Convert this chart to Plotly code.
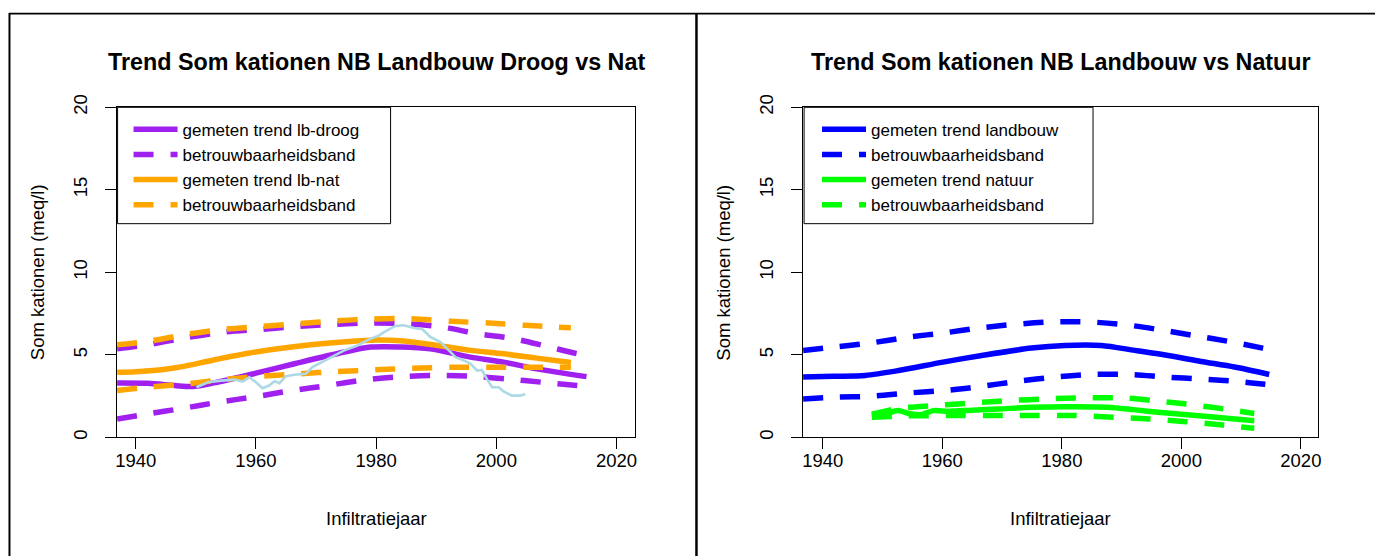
import plotly.graph_objects as go

# ---------------- data (left panel: Landbouw droog vs nat) ----------------
droog_trend_x = [1936.9, 1942.0, 1946.5, 1949.5, 1953.0, 1960.0, 1966.4, 1974.7, 1979.1, 1984.0, 1989.0, 1995.7, 2001.2, 2006.7, 2015.0]
droog_trend_y = [3.30, 3.28, 3.14, 3.08, 3.30, 3.89, 4.46, 5.17, 5.47, 5.48, 5.37, 4.86, 4.56, 4.15, 3.68]

droog_upper_x = [1936.9, 1942.0, 1948.4, 1954.7, 1961.1, 1967.2, 1973.0, 1979.1, 1985.2, 1991.0, 1996.8, 2002.3, 2007.8, 2013.4, 2015.0]
droog_upper_y = [5.37, 5.61, 6.04, 6.38, 6.55, 6.73, 6.85, 6.93, 6.89, 6.69, 6.28, 6.02, 5.57, 5.07, 4.98]

droog_lower_x = [1936.9, 1942.0, 1947.9, 1953.7, 1960.0, 1966.1, 1971.9, 1977.4, 1983.2, 1989.6, 1995.7, 2001.8, 2007.6, 2013.4, 2015.0]
droog_lower_y = [1.11, 1.42, 1.76, 2.13, 2.47, 2.84, 3.14, 3.45, 3.65, 3.75, 3.71, 3.54, 3.34, 3.14, 3.10]

nat_trend_x = [1936.9, 1940.0, 1944.3, 1948.0, 1952.6, 1960.0, 1969.1, 1975.0, 1980.0, 1984.6, 1990.2, 1995.7, 2001.2, 2006.7, 2012.4]
nat_trend_y = [3.95, 3.98, 4.10, 4.30, 4.66, 5.17, 5.61, 5.80, 5.90, 5.84, 5.57, 5.27, 5.06, 4.80, 4.54]

nat_upper_x = [1936.9, 1942.0, 1948.4, 1954.7, 1961.1, 1967.2, 1973.0, 1979.1, 1985.7, 1992.4, 1998.7, 2004.8, 2009.8, 2012.4]
nat_upper_y = [5.61, 5.81, 6.24, 6.55, 6.73, 6.89, 7.05, 7.17, 7.19, 7.03, 6.93, 6.79, 6.69, 6.64]

nat_lower_x = [1936.9, 1942.0, 1948.4, 1954.7, 1961.1, 1967.2, 1973.4, 1979.9, 1986.0, 1992.4, 1998.4, 2004.8, 2012.4]
nat_lower_y = [2.84, 3.04, 3.24, 3.51, 3.71, 3.85, 3.99, 4.09, 4.19, 4.25, 4.25, 4.25, 4.25]

meting_x = [1950.1, 1952.0, 1954.2, 1956.4, 1957.8, 1958.9, 1960.0, 1961.1, 1962.2, 1963.1, 1963.9, 1965.0,
            1966.4, 1968.3, 1969.4, 1971.4, 1973.0, 1974.7, 1976.9, 1978.8, 1980.5, 1981.3, 1983.2, 1984.6,
            1986.3, 1987.7, 1989.0, 1990.7, 1992.1, 1993.2, 1994.6, 1995.7, 1996.8, 1997.6, 1998.4, 1999.3,
            2000.4, 2001.2, 2002.6, 2004.0, 2004.8]
meting_y = [3.04, 3.34, 3.44, 3.50, 3.38, 3.65, 3.34, 2.98, 3.14, 3.40, 3.28, 3.71,
            3.79, 3.85, 4.26, 4.66, 4.96, 5.27, 5.57, 5.94, 6.18, 6.38, 6.75, 6.79,
            6.63, 6.55, 6.08, 5.78, 5.27, 4.86, 4.66, 4.46, 4.05, 4.09, 3.54, 3.04,
            3.04, 2.78, 2.53, 2.53, 2.63]

# ---------------- data (right panel: Landbouw vs Natuur) ----------------
lb_trend_x = [1936.7, 1941.8, 1947.1, 1952.7, 1960.1, 1966.6, 1974.9, 1980.5, 1986.6, 1992.2, 1997.8, 2003.3, 2008.9, 2014.7]
lb_trend_y = [3.65, 3.70, 3.75, 4.05, 4.56, 4.96, 5.41, 5.57, 5.57, 5.27, 4.96, 4.60, 4.26, 3.81]

lb_upper_x = [1936.7, 1941.8, 1948.2, 1954.4, 1960.5, 1966.3, 1972.2, 1978.0, 1984.7, 1990.5, 1996.4, 2001.9, 2007.8, 2013.6, 2014.9]
lb_upper_y = [5.27, 5.47, 5.73, 6.08, 6.34, 6.63, 6.85, 6.99, 6.99, 6.83, 6.52, 6.18, 5.82, 5.41, 5.31]

lb_lower_x = [1936.7, 1941.8, 1948.0, 1954.4, 1960.5, 1966.3, 1972.7, 1978.8, 1985.0, 1991.4, 1997.5, 2003.3, 2009.7, 2014.6]
lb_lower_y = [2.33, 2.43, 2.49, 2.69, 2.84, 3.08, 3.40, 3.65, 3.81, 3.81, 3.65, 3.54, 3.38, 3.20]

nt_trend_x = [1948.2, 1950.5, 1952.5, 1954.4, 1956.5, 1958.5, 1961.0, 1965.0, 1969.4, 1975.0, 1980.5, 1987.7, 1992.0, 1996.1, 2004.4, 2012.2]
nt_trend_y = [1.30, 1.40, 1.62, 1.45, 1.38, 1.62, 1.58, 1.65, 1.72, 1.82, 1.86, 1.83, 1.68, 1.52, 1.26, 1.01]

nt_upper_x = [1948.2, 1952.7, 1958.8, 1965.2, 1971.3, 1977.4, 1983.9, 1990.3, 1996.4, 2002.2, 2008.3, 2012.2]
nt_upper_y = [1.40, 1.76, 1.93, 2.09, 2.23, 2.33, 2.39, 2.39, 2.19, 1.96, 1.66, 1.45]

nt_lower_x = [1948.2, 1954.0, 1961.0, 1967.0, 1973.0, 1982.2, 1988.6, 1994.7, 2000.8, 2006.9, 2012.2]
nt_lower_y = [1.22, 1.30, 1.32, 1.32, 1.32, 1.32, 1.22, 1.11, 0.95, 0.75, 0.55]

x_ticks = [1940, 1960, 1980, 2000, 2020]
y_ticks = [0, 5, 10, 15, 20]

# ---------------- styling ----------------
W, H = 1378, 558
OFF, SY = 12.0, 0.97   # observed vertical placement of the page in the screenshot
FONT = "Liberation Sans"
PURPLE, ORANGE, LBLUE = "#A020F0", "#FFA500", "#ADD8E6"
BLUE, GREEN = "#0000FF", "#00FF00"
LW = 5.5
DASH = "20px,17px"

def px_x(p):
    return p / W

def px_y(p):
    y = (p - OFF) / SY
    return (H - y) / H

fig = go.Figure()

def add(x, y, color, name, dash=None, legend="legend", show=True, ax=("x", "y"), shape="spline", width=LW):
    fig.add_trace(go.Scatter(
        x=x, y=y, mode="lines", name=name, showlegend=show, legend=legend,
        line=dict(color=color, width=width, dash=dash, shape=shape, smoothing=0.8),
        xaxis=ax[0], yaxis=ax[1], hoverinfo="skip"))

# left panel
add(droog_trend_x, droog_trend_y, PURPLE, "gemeten trend lb-droog")
add(droog_upper_x, droog_upper_y, PURPLE, "betrouwbaarheidsband", dash=DASH)
add(droog_lower_x, droog_lower_y, PURPLE, "betrouwbaarheidsband", dash=DASH, show=False)
add(nat_trend_x, nat_trend_y, ORANGE, "gemeten trend lb-nat")
add(nat_upper_x, nat_upper_y, ORANGE, "betrouwbaarheidsband", dash=DASH)
add(nat_lower_x, nat_lower_y, ORANGE, "betrouwbaarheidsband", dash=DASH, show=False)
add(meting_x, meting_y, LBLUE, "meting", show=False, shape="linear", width=2.6)

# right panel
R = ("x2", "y2")
add(lb_trend_x, lb_trend_y, BLUE, "gemeten trend landbouw", legend="legend2", ax=R)
add(lb_upper_x, lb_upper_y, BLUE, "betrouwbaarheidsband", dash=DASH, legend="legend2", ax=R)
add(lb_lower_x, lb_lower_y, BLUE, "betrouwbaarheidsband", dash=DASH, legend="legend2", show=False, ax=R)
add(nt_trend_x, nt_trend_y, GREEN, "gemeten trend natuur", legend="legend2", ax=R)
add(nt_upper_x, nt_upper_y, GREEN, "betrouwbaarheidsband", dash=DASH, legend="legend2", ax=R)
add(nt_lower_x, nt_lower_y, GREEN, "betrouwbaarheidsband", dash=DASH, legend="legend2", show=False, ax=R)

tickfont = dict(family=FONT, size=18.5, color="black")
common_x = dict(showline=True, linecolor="black", linewidth=1, mirror=True, ticks="outside",
                ticklen=11, tickwidth=1, tickcolor="black", showgrid=False, zeroline=False,
                tickvals=x_ticks, tickfont=tickfont, ticklabelstandoff=-5)
common_y = dict(showline=True, linecolor="black", linewidth=1, mirror=True, ticks="outside",
                ticklen=11, tickwidth=1, tickcolor="black", showgrid=False, zeroline=False,
                tickvals=y_ticks, range=[0, 20], tickangle=-90, tickfont=tickfont,
                domain=[px_y(435), px_y(106)], ticklabelstandoff=11)

legend_common = dict(borderwidth=0, bgcolor="rgba(0,0,0,0)",
                     font=dict(family=FONT, size=17, color="black"),
                     xanchor="left", yanchor="top", tracegroupgap=0, itemwidth=44)

fig.update_layout(
    width=W, height=H, margin=dict(l=0, r=0, t=0, b=0),
    paper_bgcolor="white", plot_bgcolor="white",
    xaxis=dict(domain=[px_x(115.5), px_x(635.5)], range=[1936.9, 2023.1], anchor="y", **common_x),
    yaxis=dict(anchor="x", **common_y),
    xaxis2=dict(domain=[px_x(804), px_x(1321)], range=[1936.7, 2022.9], anchor="y2", **common_x),
    yaxis2=dict(anchor="x2", **common_y),
    legend=dict(x=px_x(127), y=px_y(110.5), **legend_common),
    legend2=dict(x=px_x(818), y=px_y(110.5), **legend_common),
    showlegend=True,
)

# legend frames (white boxes like R's legend())
for x0, x1 in [(116, 390), (805, 1095)]:
    fig.add_shape(type="rect", xref="paper", yref="paper", layer="above",
                  x0=px_x(x0), x1=px_x(x1), y0=px_y(222), y1=px_y(106),
                  line=dict(color="black", width=1), fillcolor="white")

titles = [("Trend Som kationen NB Landbouw Droog vs Nat", 375.5),
          ("Trend Som kationen NB Landbouw vs Natuur", 1062.5)]
for t, cx in titles:
    fig.add_annotation(text="<b>%s</b>" % t, x=px_x(cx), y=px_y(60.5), xref="paper", yref="paper",
                       showarrow=False, xanchor="center", yanchor="middle",
                       font=dict(family=FONT, size=23.3, color="black"))
for cx, ylx in [(375.5, 35), (1062.5, 724)]:
    fig.add_annotation(text="Infiltratiejaar", x=px_x(cx), y=px_y(516), xref="paper", yref="paper",
                       showarrow=False, xanchor="center", yanchor="middle",
                       font=dict(family=FONT, size=18.5, color="black"))
    fig.add_annotation(text="Som kationen (meq/l)", x=px_x(ylx), y=px_y(270.5), xref="paper", yref="paper",
                       showarrow=False, xanchor="center", yanchor="middle", textangle=-90,
                       font=dict(family=FONT, size=18.5, color="black"))

# page frame lines
fig.add_shape(type="line", xref="paper", yref="paper", x0=px_x(7.5), x1=px_x(7.5), y0=0, y1=1,
              line=dict(color="black", width=2))
fig.add_shape(type="line", xref="paper", yref="paper", x0=px_x(7), x1=1, y0=0.9988, y1=0.9988,
              line=dict(color="black", width=1.6))
fig.add_shape(type="line", xref="paper", yref="paper", x0=px_x(697), x1=px_x(697), y0=0, y1=1,
              line=dict(color="black", width=2.5))

fig.write_html("out.html", config={"displayModeBar": False},
               post_script="document.body.style.margin='0px';document.body.style.padding='0px';"
                           "document.body.style.overflow='hidden';")
